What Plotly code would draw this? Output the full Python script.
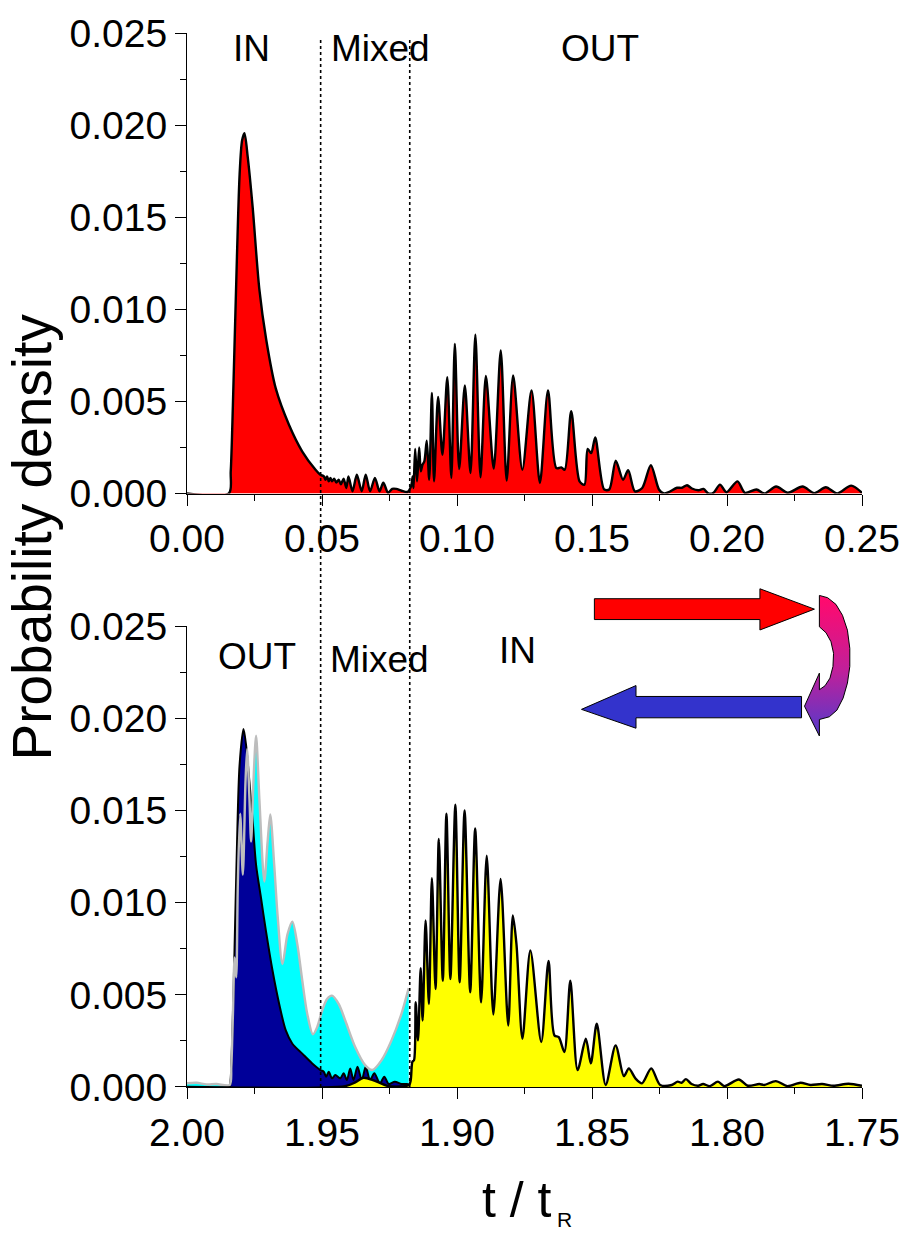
import plotly.graph_objects as go

# ---------------- data ----------------
# Top panel: probability density vs t/tR (0 .. 0.25)
top_t = [0.0, 0.0155, 0.0162, 0.0170, 0.0185, 0.0195, 0.0204, 0.0213, 0.0225, 0.0243,
         0.0268, 0.0293, 0.0329, 0.0378, 0.0427, 0.0476, 0.0494, 0.0507, 0.0513, 0.0519,
         0.0525, 0.0531, 0.0537, 0.0545, 0.0553, 0.0562, 0.0570, 0.0580, 0.0590, 0.0598,
         0.0613, 0.0629, 0.0647, 0.0662, 0.0678, 0.0696, 0.0713, 0.0727, 0.0745, 0.0760,
         0.0775, 0.0795, 0.0817, 0.0830, 0.0836, 0.0839, 0.0845, 0.0852, 0.0860, 0.0866,
         0.0872, 0.0879, 0.0888, 0.0897, 0.0907, 0.0915, 0.0930, 0.0946, 0.0964, 0.0979,
         0.0992, 0.1008, 0.1029, 0.1050, 0.1068, 0.1087, 0.1107, 0.1136, 0.1162, 0.1184,
         0.1208, 0.1242, 0.1276, 0.1307, 0.1337, 0.1368, 0.1386, 0.1399, 0.1423, 0.1454,
         0.1472, 0.1484, 0.1497, 0.1512, 0.1545, 0.1564, 0.1588, 0.1615, 0.1634, 0.1659,
         0.1686, 0.1718, 0.1748, 0.1766, 0.1784, 0.1815, 0.1833, 0.1852, 0.1870, 0.1894,
         0.1913, 0.1931, 0.1950, 0.1974, 0.1998, 0.2039, 0.2066, 0.2109, 0.2139, 0.2182,
         0.2225, 0.2280, 0.2323, 0.2366, 0.2408, 0.2460, 0.2500]
top_p = [0.0, 0.0, 0.0012, 0.0048, 0.01288, 0.01737, 0.01916, 0.01956, 0.01826, 0.01557,
         0.01108, 0.00839, 0.00569, 0.00372, 0.00228, 0.00129, 0.00102, 0.00093, 0.00075, 0.00093,
         0.00066, 0.00085, 0.00066, 0.00080, 0.00060, 0.00075, 0.00050, 0.00080, 0.00030, 0.00093,
         0.00012, 0.00102, 0.00012, 0.00102, 0.00012, 0.00085, 0.00012, 0.00058, 0.00004, 0.00025,
         0.00025, 0.00015, 0.00009, 0.00040, 0.00093, 0.00030, 0.00242, 0.00066, 0.00250, 0.00120,
         0.00156, 0.00174, 0.00286, 0.00075, 0.00546, 0.00066, 0.00524, 0.00210, 0.00632, 0.00084,
         0.00812, 0.00133, 0.00587, 0.00111, 0.00862, 0.00088, 0.00638, 0.00135, 0.00776, 0.00070,
         0.00641, 0.00129, 0.00560, 0.00057, 0.00560, 0.00138, 0.00142, 0.00129, 0.00447, 0.00066,
         0.00048, 0.00242, 0.00219, 0.00304, 0.00022, 0.00022, 0.00178, 0.00075, 0.00126, 0.00012,
         0.00030, 0.00153, 0.00022, 0.0, 0.00007, 0.00031, 0.00031, 0.00045, 0.00027, 0.00018,
         0.00025, 0.0, 0.00004, 0.00048, 0.00007, 0.00066, 0.00004, 0.00022, 0.0, 0.00038,
         0.00004, 0.00038, 0.00002, 0.00034, 0.0, 0.00043, 0.00004]

# Bottom panel (t/tR from 2.00 down to 1.75)
cyan_t = [2.0, 1.99645, 1.99278, 1.98911, 1.98421, 1.9836, 1.98299, 1.98238, 1.98177, 1.98116,
          1.9803, 1.97932, 1.97834, 1.97773, 1.97687, 1.97626, 1.9754, 1.97442, 1.9732, 1.97137,
          1.97014, 1.96916, 1.9677, 1.96647, 1.96464, 1.9628, 1.96097, 1.95913, 1.9573, 1.95546,
          1.95338, 1.95179, 1.94995, 1.94812, 1.94628, 1.94383, 1.94139, 1.93771, 1.93404, 1.93135,
          1.92792, 1.92426, 1.92058, 1.91789]
cyan_p = [0.0002, 0.00023, 0.00014, 0.00016, 0.00011, 0.0011, 0.00397, 0.00703, 0.00595, 0.01116,
          0.01484, 0.01152, 0.01655, 0.01835, 0.01565, 0.01332, 0.01655, 0.01907, 0.01565, 0.01116,
          0.01332, 0.01479, 0.01206, 0.00936, 0.00667, 0.00828, 0.00897, 0.00774, 0.00577, 0.00397,
          0.00286, 0.00325, 0.00415, 0.00478, 0.00496, 0.00451, 0.00361, 0.00217, 0.00119, 0.00092,
          0.00146, 0.00253, 0.00397, 0.00537]

navy_t = [2.0, 1.9842, 1.98385, 1.98299, 1.98238, 1.98152, 1.98054, 1.97907, 1.9781, 1.97687,
          1.97565, 1.97442, 1.97259, 1.97075, 1.96831, 1.96586, 1.96341, 1.96097, 1.9573, 1.95362,
          1.95056, 1.94934, 1.94848, 1.9475, 1.94628, 1.94506, 1.94322, 1.942, 1.94077, 1.93955,
          1.93833, 1.93686, 1.93527, 1.9338, 1.9322, 1.93062, 1.92853, 1.92695, 1.92523, 1.92303,
          1.92058, 1.91814, 1.917]
navy_p = [0.0, 0.00005, 0.00038, 0.004, 0.00757, 0.01296, 0.01745, 0.01943, 0.01853, 0.01655,
          0.01439, 0.01206, 0.01026, 0.00846, 0.00631, 0.00451, 0.00307, 0.00235, 0.00181, 0.00128,
          0.00092, 0.00083, 0.00056, 0.00083, 0.00047, 0.00065, 0.00047, 0.00074, 0.00038, 0.00101,
          0.00038, 0.0011, 0.00038, 0.0011, 0.00038, 0.00074, 0.0002, 0.00056, 0.00016, 0.00029,
          0.00016, 0.00016, 0.0]

yellow_t = [2.0, 1.94139, 1.93771, 1.93465, 1.93062, 1.92548, 1.91774, 1.91713, 1.91652, 1.91591,
            1.9153, 1.91444, 1.91346, 1.91273, 1.91163, 1.9104, 1.9093, 1.90795, 1.90673, 1.90526,
            1.90392, 1.90245, 1.90061, 1.89902, 1.89719, 1.89511, 1.89327, 1.89107, 1.88899, 1.88654,
            1.88385, 1.88103, 1.87932, 1.87797, 1.87577, 1.87283, 1.8688, 1.8661, 1.8639, 1.86231,
            1.86023, 1.85803, 1.85533, 1.85228, 1.85044, 1.84824, 1.84493, 1.84126, 1.8382, 1.83637,
            1.83393, 1.83149, 1.82806, 1.82476, 1.82047, 1.81827, 1.8168, 1.81521, 1.81313, 1.81068,
            1.80885, 1.8064, 1.80334, 1.80089, 1.79563, 1.79233, 1.78804, 1.78621, 1.78193, 1.77764,
            1.77275, 1.76908, 1.76479, 1.76051, 1.755, 1.75]
yellow_p = [0.0, 0.00005, 0.00025, 0.0005, 0.00035, 0.00005, 0.00011, 0.00038, 0.00137, 0.00146,
            0.0046, 0.00253, 0.00645, 0.00361, 0.00904, 0.00451, 0.01134, 0.00532, 0.01346, 0.00577,
            0.01484, 0.00586, 0.01533, 0.00568, 0.01502, 0.00514, 0.01403, 0.0046, 0.01256, 0.00394,
            0.0113, 0.00334, 0.00931, 0.00775, 0.00262, 0.00742, 0.00244, 0.00685, 0.0028, 0.00271,
            0.0019, 0.00577, 0.00092, 0.00262, 0.00128, 0.00343, 0.00011, 0.00226, 0.00059, 0.00101,
            0.00047, 0.0002, 0.00101, 0.00011, 0.00011, 0.00029, 0.00023, 0.00043, 0.00016, 0.00007,
            0.00016, 0.00005, 0.00029, 0.00005, 0.00041, 0.00007, 0.00016, 0.00011, 0.00032, 0.00005,
            0.00023, 0.00011, 0.00016, 0.00007, 0.00018, 0.00007]

region_bounds = [0.0495, 0.0825]          # dotted separators (t/tR in top panel)
top_labels = ["IN", "Mixed", "OUT"]
bottom_labels = ["OUT", "Mixed", "IN"]
x_ticks_top = [0.00, 0.05, 0.10, 0.15, 0.20, 0.25]
x_ticks_bottom = [2.00, 1.95, 1.90, 1.85, 1.80, 1.75]
y_ticks = [0.000, 0.005, 0.010, 0.015, 0.020, 0.025]

# ---------------- layout helpers (pixel geometry) ----------------
W, H = 912, 1237
L, R, T, B = 187, 868, 25, 1087
FONT = "Liberation Sans, Arial, Helvetica, sans-serif"


def pxx(x):
    return (x - L) / (R - L)


def pxy(y):
    return (B - y) / (B - T)


fig = go.Figure()

spl = dict(shape="spline", smoothing=0.8)

# top panel
fig.add_trace(go.Scatter(x=top_t, y=top_p, mode="lines", fill="tozeroy", fillcolor="#FF0000",
                         line=dict(color="black", width=2.4, **spl), xaxis="x", yaxis="y",
                         showlegend=False, hoverinfo="skip"))

# bottom panel
fig.add_trace(go.Scatter(x=cyan_t, y=cyan_p, mode="lines", fill="tozeroy", fillcolor="#00FFFF",
                         line=dict(color="rgba(0,0,0,0)", width=0, **spl), xaxis="x2", yaxis="y2",
                         showlegend=False, hoverinfo="skip"))
fig.add_trace(go.Scatter(x=navy_t, y=navy_p, mode="lines", fill="tozeroy", fillcolor="#000099",
                         line=dict(color="black", width=2, **spl), xaxis="x2", yaxis="y2",
                         showlegend=False, hoverinfo="skip"))
fig.add_trace(go.Scatter(x=cyan_t, y=cyan_p, mode="lines",
                         line=dict(color="#BDBDBD", width=2.4, **spl), xaxis="x2", yaxis="y2",
                         showlegend=False, hoverinfo="skip"))
fig.add_trace(go.Scatter(x=yellow_t, y=yellow_p, mode="lines", fill="tozeroy", fillcolor="#FFFF00",
                         line=dict(color="black", width=2.4, **spl), xaxis="x2", yaxis="y2",
                         showlegend=False, hoverinfo="skip"))

# decorative arrows (pixel coordinates on a hidden overlay axis)
red_arrow_x = [598, 765, 765, 820, 765, 765, 598, 598]
red_arrow_y = [595, 595, 585, 605.5, 626.5, 616, 616, 595]
blue_arrow_x = [807, 640, 640, 585, 640, 640, 807, 807]
blue_arrow_y = [693.5, 693.5, 682.5, 706.5, 725.5, 715, 715, 693.5]
curve_x = [825, 833.3, 841.7, 848.3, 853.3, 855.7, 855.7, 853.3, 849, 842.7, 835, 826.7,
           825, 825, 810, 825, 825, 830.7, 835.7, 838.7, 839.3, 836.7, 831.7, 825, 825]
curve_y = [591.7, 594, 600.7, 611.7, 626.7, 645, 663.3, 680, 695, 707.3, 714, 716.7,
           716.7, 733.3, 703.3, 670, 686.7, 682.7, 675, 663.3, 650, 638.3, 629.3, 623.3, 591.7]

fig.add_trace(go.Scatter(x=red_arrow_x, y=red_arrow_y, mode="lines", fill="toself",
                         fillcolor="#FF0000", line=dict(color="black", width=1),
                         xaxis="x3", yaxis="y3", showlegend=False, hoverinfo="skip"))
fig.add_trace(go.Scatter(x=blue_arrow_x, y=blue_arrow_y, mode="lines", fill="toself",
                         fillcolor="#3333CC", line=dict(color="black", width=1),
                         xaxis="x3", yaxis="y3", showlegend=False, hoverinfo="skip"))
fig.add_trace(go.Scatter(x=curve_x, y=curve_y, mode="lines", fill="toself",
                         fillgradient=dict(type="vertical", start=592, stop=733,
                                           colorscale=[[0, "#FF0A6E"], [0.5, "#C0209A"], [1, "#4A3CD0"]]),
                         line=dict(color="black", width=1),
                         xaxis="x3", yaxis="y3", showlegend=False, hoverinfo="skip"))

tickfont = dict(family=FONT, size=39, color="black")


def xax(domain_anchor, rng, ticks):
    return dict(domain=[0, 1], anchor=domain_anchor, range=rng, tickmode="array",
                tickvals=ticks, ticktext=[f"{v:.2f}" for v in ticks],
                ticks="outside", ticklen=11, tickwidth=1, tickcolor="black",
                showline=True, linecolor="black", linewidth=1, showgrid=False, zeroline=False,
                minor=dict(ticks="outside", dtick=0.025, tick0=0, ticklen=6, tickwidth=1,
                           tickcolor="black", showgrid=False),
                tickfont=tickfont, fixedrange=True)


def yax(domain, anchor):
    return dict(domain=domain, anchor=anchor, range=[0, 0.025], tickmode="array",
                tickvals=y_ticks, ticktext=[f"{v:.3f}" for v in y_ticks],
                ticks="outside", ticklen=11, tickwidth=1, tickcolor="black",
                showline=True, linecolor="black", linewidth=1, showgrid=False, zeroline=False,
                minor=dict(ticks="outside", dtick=0.0025, tick0=0, ticklen=6, tickwidth=1,
                           tickcolor="black", showgrid=False),
                tickfont=tickfont, fixedrange=True)


annotations = []
lab_font = dict(family=FONT, size=37, color="black")
for txt, (x, y) in zip(top_labels, [(252, 41), (382, 41), (604, 41)]):
    annotations.append(dict(text=txt, x=pxx(x), y=pxy(y), xref="paper", yref="paper",
                            showarrow=False, font=lab_font, xanchor="center", yanchor="middle"))
for txt, (x, y) in zip(bottom_labels, [(258, 653), (381, 656), (520, 647)]):
    annotations.append(dict(text=txt, x=pxx(x), y=pxy(y), xref="paper", yref="paper",
                            showarrow=False, font=lab_font, xanchor="center", yanchor="middle"))
annotations.append(dict(text="Probability density", textangle=-90, x=pxx(31), y=pxy(533),
                        xref="paper", yref="paper", showarrow=False,
                        font=dict(family=FONT, size=55, color="black"),
                        xanchor="center", yanchor="middle"))
annotations.append(dict(text="t / t", x=pxx(557), y=pxy(1220), xref="paper", yref="paper",
                        showarrow=False, font=dict(family=FONT, size=50, color="black"),
                        xanchor="right", yanchor="bottom", yshift=-11))
annotations.append(dict(text="R", x=pxx(558), y=pxy(1234), xref="paper", yref="paper",
                        showarrow=False, font=dict(family=FONT, size=21, color="black"),
                        xanchor="left", yanchor="bottom"))

shapes = []
for xb in region_bounds:
    shapes.append(dict(type="line", xref="x", yref="paper", x0=xb, x1=xb, y0=0, y1=pxy(30),
                       line=dict(color="black", width=1.6, dash="dot"), layer="above"))

fig.update_layout(
    width=W, height=H, autosize=False,
    margin=dict(l=L, r=W - R, t=T, b=H - B, pad=0),
    paper_bgcolor="white", plot_bgcolor="rgba(0,0,0,0)",
    font=dict(family=FONT, color="black"),
    xaxis=xax("y", [0, 0.25], x_ticks_top),
    yaxis=yax([pxy(489), 1], "x"),
    xaxis2=xax("y2", [2.0, 1.75], x_ticks_bottom),
    yaxis2=yax([0, pxy(623)], "x2"),
    xaxis3=dict(domain=[0, 1], anchor="y3", range=[L, R], visible=False, fixedrange=True),
    yaxis3=dict(domain=[0, 1], anchor="x3", range=[B, T], visible=False, fixedrange=True),
    annotations=annotations, shapes=shapes, showlegend=False,
)
fig.update_layout(xaxis2=dict(minor=dict(tick0=2.0)))

fig.write_html("out.html",
               config={"displayModeBar": False, "staticPlot": True},
               post_script="document.body.style.margin='0';document.body.style.padding='0';"
                           "document.body.style.overflow='hidden';")
